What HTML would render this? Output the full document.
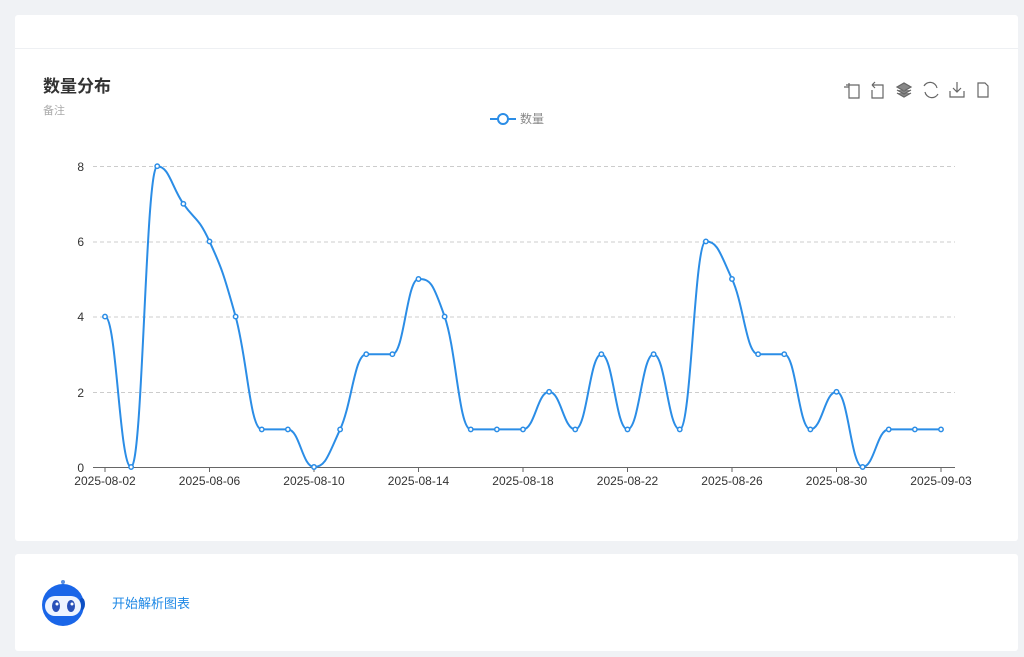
<!DOCTYPE html>
<html><head><meta charset="utf-8"><style>
body{margin:0;width:1024px;height:657px;background:#f0f2f5;font-family:"Liberation Sans","Noto Sans CJK SC",sans-serif;position:relative;overflow:hidden}
.card{position:absolute;background:#fff;border-radius:3px}
</style></head><body>
<div class="card" style="left:15px;top:15px;width:1003px;height:526px">
<div style="position:absolute;left:0;top:33px;width:1003px;height:1px;background:#eef0f3"></div>
</div>
<div class="card" style="left:15px;top:554px;width:1003px;height:97px"></div>
<svg width="1024" height="657" style="position:absolute;left:0;top:0" font-family="Liberation Sans, Noto Sans CJK SC, sans-serif">
<text x="43" y="92" font-size="17" font-weight="bold" fill="#333">数量分布</text>
<text x="43" y="114" font-size="11" fill="#aaa">备注</text>
<g stroke="#666" fill="none" stroke-width="1.2">
<path d="M846 85h13v13h-10v-15M844 87h5"/>
<path d="M872 85h11v13h-11v-8M872 85l3-3M872 85l3 3"/>
<path d="M897 87l7-4 7 4-7 4z M897 90l7 4 7-4 M897 93l7 4 7-4" fill="#888"/>
<path d="M924 86a7 7 0 0 1 13 2M938 94a7 7 0 0 1-13-2"/>
<path d="M957 82v10M953 88l4 4 4-4M950 91v6h14v-6"/>
<path d="M978 83h7l3 3v11h-10z"/>
</g>
<g>
<line x1="490" y1="119" x2="516" y2="119" stroke="#2b8de6" stroke-width="2"/>
<circle cx="503" cy="119" r="5" fill="#fff" stroke="#2b8de6" stroke-width="2"/>
<text x="520" y="123" font-size="12" fill="#888">数量</text>
</g>
<g stroke="#ccc" stroke-dasharray="4,3">
<line x1="93" x2="955" y1="166.5" y2="166.5"/><line x1="93" x2="955" y1="242" y2="242"/><line x1="93" x2="955" y1="317" y2="317"/><line x1="93" x2="955" y1="392.5" y2="392.5"/>
</g>
<line x1="93" x2="955" y1="467.5" y2="467.5" stroke="#666"/>
<g font-size="12" fill="#333" text-anchor="end">
<text x="84" y="171">8</text><text x="84" y="246">6</text><text x="84" y="321">4</text><text x="84" y="397">2</text><text x="84" y="472">0</text>
</g>
<g id="ticks" stroke="#666"></g>
<g id="xl" font-size="12" fill="#333" text-anchor="middle"></g>
<path id="line" fill="none" stroke="#2b8de6" stroke-width="2"/>
<g id="pts"></g>
<text x="112" y="608" font-size="13" fill="#1e88e5">开始解析图表</text>
<g>
<line x1="63" y1="583" x2="63" y2="590" stroke="#5a8fe0" stroke-width="1.5"/>
<circle cx="63" cy="582" r="2" fill="#5a8fe0"/>
<circle cx="63" cy="605" r="21" fill="#1a66e8"/>
<ellipse cx="49" cy="604" rx="3" ry="6" fill="#0d4fc4"/><ellipse cx="82" cy="604" rx="3" ry="6" fill="#0d4fc4"/>
<rect x="45" y="596" width="36" height="20" rx="10" fill="#eef4ff"/>
<ellipse cx="56" cy="606" rx="4" ry="6" fill="#2850b8"/><ellipse cx="71" cy="606" rx="4" ry="6" fill="#2850b8"/>
<circle cx="57" cy="604" r="1.5" fill="#fff"/><circle cx="72" cy="604" r="1.5" fill="#fff"/>
</g>
</svg>
<script>
var d=[4,0,8,7,6,4,1,1,0,1,3,3,5,4,1,1,1,2,1,3,1,3,1,6,5,3,3,1,2,0,1,1,1];
var x0=105,dx=26.125,y0=467,uy=37.6;
var P=d.map(function(v,i){return [x0+i*dx,y0-v*uy]});
var s="M"+P[0][0]+" "+P[0][1];
function tan(i){if(i==0||i==P.length-1)return 0;var a=d[i-1],b=d[i],c=d[i+1];if((b-a)*(c-b)<=0)return 0;return (P[i+1][1]-P[i-1][1])/2;}
for(var i=0;i<P.length-1;i++){var t0=tan(i),t1=tan(i+1),k=0.45;
s+=" C"+(P[i][0]+dx*k)+" "+(P[i][1]+t0*k)+" "+(P[i+1][0]-dx*k)+" "+(P[i+1][1]-t1*k)+" "+P[i+1][0]+" "+P[i+1][1];}
document.getElementById("line").setAttribute("d",s);
var g="";P.forEach(function(p){g+='<circle cx="'+p[0]+'" cy="'+p[1]+'" r="2.2" fill="#fff" stroke="#2b8de6" stroke-width="1.5"/>'});
document.getElementById("pts").innerHTML=g;
var labs=["2025-08-02","2025-08-06","2025-08-10","2025-08-14","2025-08-18","2025-08-22","2025-08-26","2025-08-30","2025-09-03"],t="",l="";
for(var j=0;j<9;j++){var x=x0+j*4*dx;t+='<line x1="'+x+'" x2="'+x+'" y1="467" y2="472"/>';l+='<text x="'+x+'" y="485">'+labs[j]+'</text>';}
document.getElementById("ticks").innerHTML=t;document.getElementById("xl").innerHTML=l;
</script>
</body></html>
